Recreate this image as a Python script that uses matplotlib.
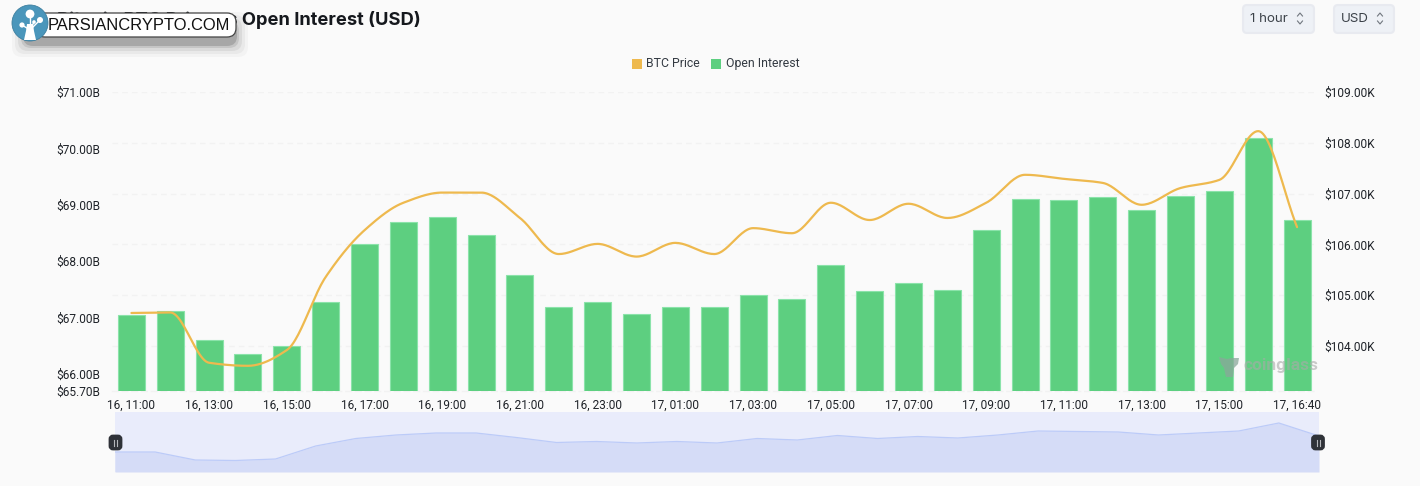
import numpy as np
import matplotlib
matplotlib.use('Agg')
import matplotlib.pyplot as plt
from matplotlib.patches import Circle, FancyBboxPatch, Rectangle

W, H = 1420, 486

time_labels = ['16, 11:00', '16, 12:00', '16, 13:00', '16, 14:00', '16, 15:00', '16, 16:00',
               '16, 17:00', '16, 18:00', '16, 19:00', '16, 20:00', '16, 21:00', '16, 22:00',
               '16, 23:00', '17, 00:00', '17, 01:00', '17, 02:00', '17, 03:00', '17, 04:00',
               '17, 05:00', '17, 06:00', '17, 07:00', '17, 08:00', '17, 09:00', '17, 10:00',
               '17, 11:00', '17, 12:00', '17, 13:00', '17, 14:00', '17, 15:00', '17, 16:00',
               '17, 16:40']
open_interest = [67.05, 67.12, 66.60, 66.36, 66.50, 67.28, 68.31, 68.69, 68.78, 68.46, 67.76,
                 67.19, 67.28, 67.06, 67.19, 67.19, 67.41, 67.33, 67.93, 67.47, 67.62, 67.49,
                 68.55, 69.10, 69.08, 69.14, 68.91, 69.16, 69.24, 70.18, 68.73]
btc_price = [104.65, 104.66, 103.67, 103.61, 103.92, 105.36, 106.28, 106.82, 107.02, 107.02,
             106.52, 105.81, 106.01, 105.76, 106.03, 105.81, 106.32, 106.22, 106.82, 106.48,
             106.80, 106.52, 106.82, 107.37, 107.29, 107.21, 106.78, 107.11, 107.27, 108.23,
             106.34]
overview = [20, 20, 12, 11.5, 13, 26, 33.5, 37, 39, 39, 34.5, 29.5, 30.5, 29, 30.5, 29, 33.5,
            32, 36.5, 33.5, 35.5, 34, 37, 41, 40.5, 40, 37, 39, 41, 49, 36]
oi_ticks = [65.7, 66, 67, 68, 69, 70, 71]
price_ticks = [104, 105, 106, 107, 108, 109]

BG = '#fafafa'
GREEN = '#5dcf80'
GOLD = '#eeb94e'
TEXT = '#1f2329'
GRID = '#f2f2f2'
PRICE_LIM = (103.114, 109)

plt.rcParams['font.family'] = ['Roboto', 'DejaVu Sans']


def smooth_line(x, y, per=24):
    # monotone hermite, flat at local extrema
    x = np.asarray(x, float)
    y = np.asarray(y, float)
    d = np.diff(y) / np.diff(x)
    m = np.zeros_like(y)
    for i in range(1, len(y) - 1):
        if d[i - 1] * d[i] > 0:
            m[i] = 2 * d[i - 1] * d[i] / (d[i - 1] + d[i])
    m[0], m[-1] = d[0], d[-1]
    xs, ys = [], []
    for i in range(len(x) - 1):
        t = np.linspace(0, 1, per, endpoint=False)
        h = x[i + 1] - x[i]
        xs.append(x[i] + t * h)
        ys.append((2*t**3 - 3*t**2 + 1) * y[i] + (t**3 - 2*t**2 + t) * h * m[i]
                  + (-2*t**3 + 3*t**2) * y[i + 1] + (t**3 - t**2) * h * m[i + 1])
    return np.append(np.concatenate(xs), x[-1]), np.append(np.concatenate(ys), y[-1])


fig = plt.figure(figsize=(W / 100, H / 100), dpi=100, facecolor=BG)
rect = [112 / W, 1 - 391 / H, 1204.5 / W, 299 / H]
pos = np.arange(len(time_labels))

# Grid sits in its own axes so the bars cover it
back = fig.add_axes(rect, facecolor='none')
back.set_xlim(-0.5, len(pos) - 0.5)
back.set_ylim(*PRICE_LIM)
back.set_yticks(price_ticks)
back.set_xticks([])
back.tick_params(length=0, labelleft=False)
back.grid(axis='y', color=GRID, linewidth=1, linestyle=(0, (4, 3)))
back.spines[['top', 'right', 'left']].set_visible(False)
back.spines['bottom'].set(color=GRID, linewidth=1, linestyle=(0, (4, 3)))

# Bars on the left axis
ax = fig.add_axes(rect, facecolor='none')
ax.bar(pos, open_interest, width=0.695, color=GREEN, edgecolor='#8be3aa', linewidth=0.8, zorder=2)
ax.set_xlim(-0.5, len(pos) - 0.5)
ax.set_ylim(65.7, 71)
ax.set_yticks(oi_ticks, [f'${v:.2f}B' for v in oi_ticks])
ax.set_xticks(pos[::2], time_labels[::2])
ax.tick_params(axis='both', length=0, labelsize=8.6, labelcolor=TEXT)
ax.tick_params(axis='y', pad=8.5)
ax.tick_params(axis='x', pad=5.5)
ax.spines[['top', 'right', 'left', 'bottom']].set_visible(False)

# Price on the right axis
ax2 = ax.twinx()
ax2.set_facecolor('none')
ax2.set_ylim(*PRICE_LIM)
ax2.set_yticks(price_ticks, [f'${v:.2f}K' for v in price_ticks])
ax2.tick_params(axis='y', length=0, labelsize=8.6, labelcolor=TEXT, pad=5.5)
ax2.spines[['top', 'right', 'left', 'bottom']].set_visible(False)
sx, sy = smooth_line(pos, btc_price)
ax2.plot(sx, sy, color=GOLD, linewidth=1.6, zorder=4, solid_capstyle='round')

# Overview strip
nav = fig.add_axes([115 / W, 1 - 472 / H, 1204 / W, 60 / H], facecolor='#e9ecfb')
nav.add_patch(Rectangle((0, 0), 1, 1, transform=nav.transAxes, color='#e9ecfb', zorder=0))
nav.fill_between(np.arange(len(overview)), overview, 0, color='#d5dcf7', linewidth=0, zorder=1)
nav.plot(np.arange(len(overview)), overview, color='#bccbf8', linewidth=0.9, zorder=2)
nav.set_xlim(0, len(overview) - 1)
nav.set_ylim(0, 60)
nav.axis('off')

# Page furniture in pixel coordinates
top = fig.add_axes([0, 0, 1, 1], facecolor='none')
top.set_xlim(0, W)
top.set_ylim(H, 0)
top.axis('off')

top.text(421, 20, 'Bitcoin BTC Price vs Open Interest (USD)', ha='right', va='center',
         fontsize=13.2, fontweight='bold', color='#15181d', family=['Inter', 'DejaVu Sans'],
         zorder=1)

# Selectors
for x0, x1, label in [(1242, 1315, '1 hour'), (1333, 1395, 'USD')]:
    top.add_patch(FancyBboxPatch((x0 + 1, 5), x1 - x0 - 2, 28, boxstyle='round,pad=0,rounding_size=4',
                                 mutation_aspect=1, facecolor='#eef1f6', edgecolor='#e8eaf0',
                                 linewidth=1.5))
    top.text(x0 + 8, 18.5, label, ha='left', va='center', fontsize=9.6, color='#3c4249',
             family=['Inter', 'DejaVu Sans'])
    cx = x1 - 15
    top.plot([cx - 2.5, cx, cx + 2.5], [16, 13, 16], color='#70767e', linewidth=0.8)
    top.plot([cx - 2.5, cx, cx + 2.5], [21, 24, 21], color='#70767e', linewidth=0.8)

# Legend
top.add_patch(Rectangle((632, 59), 10, 10, color=GOLD, linewidth=0))
top.text(646, 63.5, 'BTC Price', ha='left', va='center', fontsize=8.8, color='#333a42')
top.add_patch(Rectangle((711, 59), 10, 10, color=GREEN, linewidth=0))
top.text(726, 63.5, 'Open Interest', ha='left', va='center', fontsize=8.8, color='#333a42')

# Coinglass mark
top.fill([1219, 1227, 1231, 1239, 1238, 1234, 1233, 1226, 1224, 1221],
         [357, 359, 358, 358, 364, 368, 377, 377, 368, 364], color='#8aa89a', alpha=0.75, linewidth=0)
top.text(1244, 365.5, 'coinglass', ha='left', va='center', fontsize=12.5, color='#a9aaa9',
         alpha=0.6, fontweight='bold')

# Overview handles
for hx in (115.5, 1318):
    top.add_patch(FancyBboxPatch((hx - 5.5, 436), 11, 13, boxstyle='round,pad=0,rounding_size=3',
                                 facecolor='#2f3238', edgecolor='#2f3238', linewidth=2))
    top.plot([hx - 1.5, hx - 1.5], [440, 446], color='#b5b7bb', linewidth=0.8)
    top.plot([hx + 1.5, hx + 1.5], [440, 446], color='#b5b7bb', linewidth=0.8)

# Site badge: soft shadow, pill, round logo
for grow, alpha in [(12, 0.03), (9, 0.05), (6, 0.08), (3, 0.12), (1, 0.2)]:
    top.add_patch(FancyBboxPatch((24 - grow, 24 - grow), 212 + 2 * grow, 21 + 2 * grow,
                                 boxstyle='round,pad=0,rounding_size=10', facecolor='#333333',
                                 edgecolor='none', alpha=alpha, zorder=5))
top.add_patch(FancyBboxPatch((36, 13), 200, 24, boxstyle='round,pad=0,rounding_size=9',
                             facecolor='white', edgecolor='#444444', linewidth=0.9, zorder=6))
top.text(48, 25.5, 'PARSIANCRYPTO.COM', ha='left', va='center', fontsize=11.9, color='#111111',
         family=['Liberation Sans', 'DejaVu Sans'], zorder=7)
top.add_patch(Circle((30, 23), 18, facecolor='#4a96bb', edgecolor='#3d7f9f', linewidth=0.6, zorder=8))
top.fill([27, 33, 34, 36, 24, 26], [24, 24, 31, 40, 40, 31], color='white', linewidth=0, zorder=9)
for bx, by, br in [(30, 14, 4.4), (40, 20, 3.0), (22, 25, 2.6), (34, 22, 1.8)]:
    top.add_patch(Circle((bx, by), br, color='white', linewidth=0, zorder=9))
    top.plot([30, bx], [30, by], color='white', linewidth=1, zorder=9)

fig.savefig('out.png', dpi=100, facecolor=BG)
